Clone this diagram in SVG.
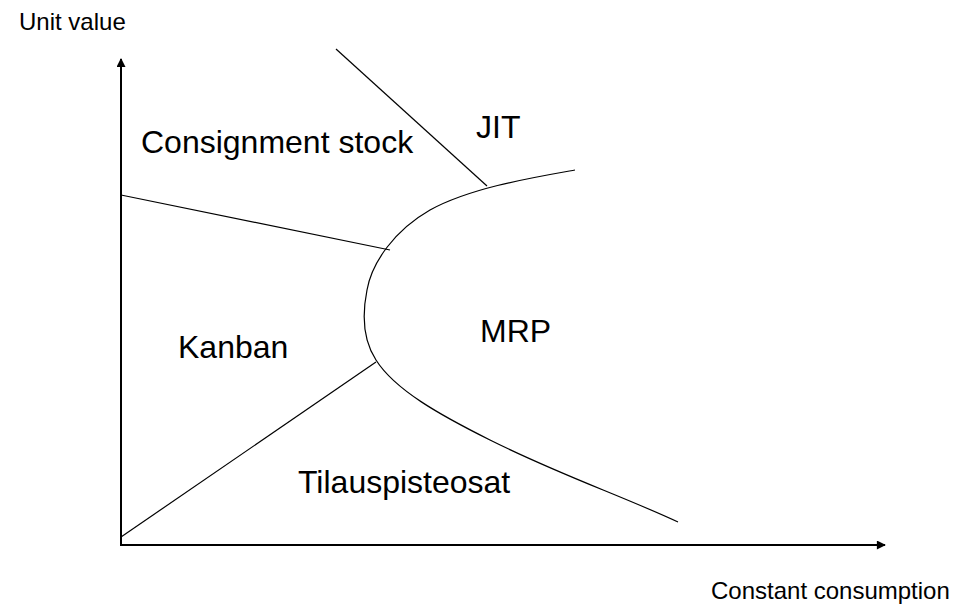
<svg xmlns="http://www.w3.org/2000/svg" width="956" height="606" viewBox="0 0 956 606">
  <style>
    .lbl { font-family: "Liberation Sans", Arial, sans-serif; fill: #000; }
    .big { font-size: 32px; }
    .small { font-size: 24px; }
    .axis { stroke: #000; stroke-width: 2; fill: none; }
    .div { stroke: #000; stroke-width: 1.2; fill: none; }
  </style>
  <defs>
    <marker id="arrow" viewBox="0 0 10 10" refX="9" refY="5" markerWidth="10" markerHeight="9" markerUnits="userSpaceOnUse" orient="auto">
      <path d="M0,0 L10,5 L0,10 Z" fill="#000"/>
    </marker>
  </defs>
  <rect width="956" height="606" fill="#fff"/>

  <!-- axes -->
  <g id="axes">
    <line class="axis" x1="121" y1="545" x2="121" y2="59" marker-end="url(#arrow)"/>
    <line class="axis" x1="120" y1="545" x2="885" y2="545" marker-end="url(#arrow)"/>
    <text class="lbl small" x="19" y="30">Unit value</text>
    <text class="lbl small" x="711" y="599">Constant consumption</text>
  </g>

  <!-- region boundaries -->
  <g id="boundaries">
    <path class="div" d="M575,170 C530,178 470,188 430,210 C395,230 372,262 367,290 C362,315 363,340 376,360 C395,390 440,415 490,440 C560,475 620,495 678,522"/>
    <line class="div" x1="336" y1="49" x2="487" y2="186"/>
    <line class="div" x1="121" y1="195" x2="390" y2="250"/>
    <line class="div" x1="121" y1="537" x2="376" y2="362"/>
  </g>

  <!-- region labels -->
  <g id="consignment"><text class="lbl big" x="141" y="153">Consignment stock</text></g>
  <g id="jit"><text class="lbl big" x="476" y="138">JIT</text></g>
  <g id="kanban"><text class="lbl big" x="178" y="358">Kanban</text></g>
  <g id="mrp"><text class="lbl big" x="480" y="342">MRP</text></g>
  <g id="tilauspisteosat"><text class="lbl big" x="298" y="493">Tilauspisteosat</text></g>
</svg>
